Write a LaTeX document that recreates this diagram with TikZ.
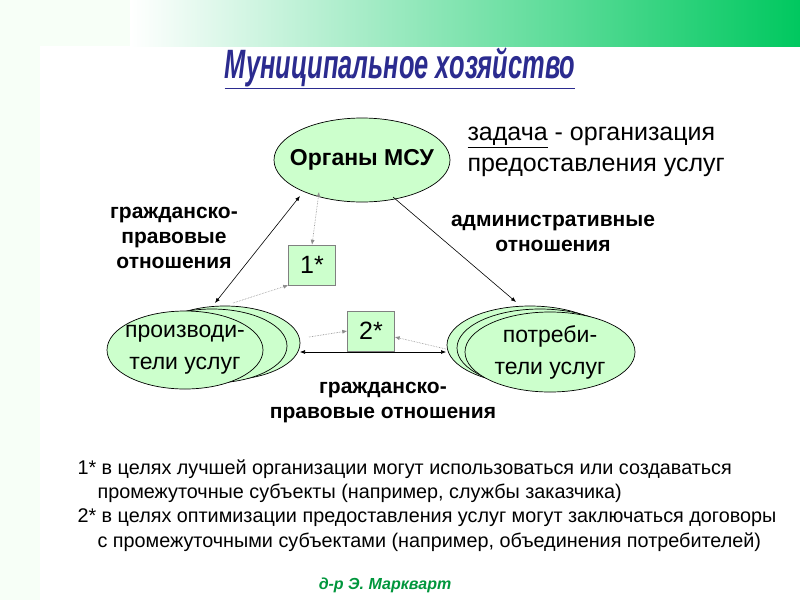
\documentclass[tikz,border=0pt]{standalone}
\usepackage{fontspec}
\setmainfont{Liberation Sans}
\usetikzlibrary{shapes.geometric,arrows.meta}
\definecolor{topgreen}{RGB}{0,200,95}
\definecolor{ellfill}{RGB}{204,255,204}
\begin{document}
\begin{tikzpicture}[x=1pt,y=-1pt,
 ell/.style={ellipse,draw=black,fill=ellfill,line width=0.7pt,inner sep=0pt},
 etxt/.style={font=\fontsize{23}{32}\selectfont,align=center},
 sbox/.style={draw=black!50,fill=ellfill,minimum width=47pt,minimum height=40pt,font=\fontsize{25}{27}\selectfont},
 lab/.style={font=\bfseries\fontsize{21}{25}\selectfont,align=center},
 arr/.style={line width=0.6pt,-{Latex[length=5pt,width=4pt]}},
 dotarr/.style={draw=black!45,densely dotted,line width=0.6pt,-{Latex[length=5pt,width=4pt]}},
 note/.style={font=\fontsize{19.8}{21}\selectfont,anchor=west}]
\useasboundingbox (0,0) rectangle (800,600);
\fill[white] (0,0) rectangle (800,600);
\shade[left color=white,right color=topgreen] (130,0) rectangle (800,46);
\fill[green!3] (0,0) rectangle (40,600);
\fill[green!3] (0,0) rectangle (130,46);
\node (title) at (400,68) {\color[rgb]{0.17,0.17,0.56}\scalebox{0.62}[1]{\bfseries\itshape\fontsize{41}{42}\selectfont\underline{Муниципальное хозяйство}}};
\node[ell,minimum width=176pt,minimum height=84pt] (msu) at (362,160) {};
\node[font=\bfseries\fontsize{23}{26}\selectfont] (msut) at (msu.center) {Органы МСУ};
\node[font=\fontsize{25}{31}\selectfont,align=left,anchor=west] (task) at (464,152) {\underline{задача} - организация\\предоставления услуг};
\node[ell,minimum width=150pt,minimum height=74pt] (p3) at (225,343) {};
\node[ell,minimum width=150pt,minimum height=74pt] (p2) at (212,346) {};
\node[ell,minimum width=156pt,minimum height=78pt] (prod) at (185,350) {};
\node[etxt] (prodt) at (prod.center) {производи-\\тели услуг};
\node[ell,minimum width=166pt,minimum height=78pt] (c3) at (530,345) {};
\node[ell,minimum width=166pt,minimum height=78pt] (c2) at (540,348) {};
\node[ell,minimum width=170pt,minimum height=80pt] (cons) at (550,352) {};
\node[etxt] (const) at (cons.center) {потреби-\\тели услуг};
\node[sbox] (b1) at (312,265) {1*};
\node[sbox] (b2) at (371,331) {2*};
\node[lab] (l1) at (174,238) {гражданско-\\правовые\\отношения};
\node[lab] (l2) at (553,233) {административные\\отношения};
\node[lab] (l3) at (383,403) {гражданско-\\правовые отношения};
\coordinate (a1) at (300,196); \coordinate (a2) at (215,303);
\draw[arr,{Latex[length=5pt,width=4pt]}-{Latex[length=5pt,width=4pt]}] (a1) -- (a2);
\coordinate (a3) at (393,197); \coordinate (a4) at (516,302);
\draw[arr] (a3) -- (a4);
\coordinate (h1) at (300,352); \coordinate (h2) at (446,352);
\draw[arr,{Latex[length=5pt,width=4pt]}-{Latex[length=5pt,width=4pt]}] (h1) -- (h2);
\coordinate (d1) at (319,192);
\draw[dotarr,{Latex[length=5pt,width=4pt]}-{Latex[length=5pt,width=4pt]}] (d1) -- (b1.north);
\coordinate (d2) at (233,303);
\draw[dotarr] (d2) -- (b1.south west);
\coordinate (d3) at (309,337);
\draw[dotarr] (d3) -- (b2.west);
\coordinate (d4) at (446,349);
\draw[dotarr] (d4) -- ([yshift=-6pt]b2.east);
\node[note] (n1) at (74,469) {1* в целях лучшей организации могут использоваться или создаваться};
\node[note] (n2) at (94,493) {промежуточные субъекты (например, службы заказчика)};
\node[note] (n3) at (74,518) {2* в целях оптимизации предоставления услуг могут заключаться договоры};
\node[note] (n4) at (94,542) {с промежуточными субъектами (например, объединения потребителей)};
\node[font=\bfseries\itshape\fontsize{16}{18}\selectfont,text={rgb,255:red,0;green,150;blue,60}] (auth) at (385,585) {д-р Э. Маркварт};
\end{tikzpicture}
\end{document}
